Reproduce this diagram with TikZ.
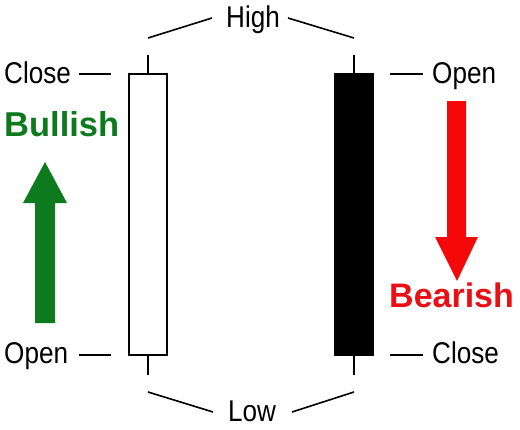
\documentclass[tikz,border=0pt]{standalone}
\usepackage{fontspec}
\setmainfont{Liberation Sans}
\newfontfamily\lblfont[FakeStretch=0.87]{Liberation Sans}
\definecolor{bullgreen}{RGB}{14,122,30}
\definecolor{bearred}{RGB}{232,16,20}
\definecolor{arrred}{RGB}{245,8,8}
\begin{document}
\begin{tikzpicture}[x=1pt,y=-1pt,
  lbl/.style={font=\lblfont\fontsize{30}{30}\selectfont, inner sep=0pt},
  ln/.style={line width=1.6pt},
  wick/.style={line width=1.6pt}]
\useasboundingbox (0,0) rectangle (520,429);
% white candle
\node[draw, line width=1.6pt, fill=white, minimum width=38pt, minimum height=281pt, inner sep=0pt] (wc) at (148,214.5) {};
\coordinate (wct) at (148,55);
\coordinate (wcb) at (148,375);
\draw[wick] (wc.north) -- (wct);
\draw[wick] (wc.south) -- (wcb);
% black candle
\node[draw, line width=1.6pt, fill=black, minimum width=38pt, minimum height=281pt, inner sep=0pt] (bc) at (354,214.5) {};
\coordinate (bct) at (354,55);
\coordinate (bcb) at (354,375);
\draw[wick] (bc.north) -- (bct);
\draw[wick] (bc.south) -- (bcb);
% High / Low
\node[lbl, anchor=base] (high) at (253,27) {High};
\node[lbl, anchor=base] (low) at (252,421) {Low};
\coordinate (h1) at (148,38); \coordinate (h2) at (354,38);
\coordinate (l1) at (148,392); \coordinate (l2) at (354,392);
\coordinate (h1e) at (212,18); \coordinate (h2e) at (288,18);
\coordinate (l1e) at (213,412); \coordinate (l2e) at (292,412);
\draw[ln] (h1) -- (h1e);
\draw[ln] (h2e) -- (h2);
\draw[ln] (l1) -- (l1e);
\draw[ln] (l2e) -- (l2);
% side labels
\node[lbl, anchor=base west] (closeL) at (4,83) {Close};
\node[lbl, anchor=base west] (openL) at (4,363) {Open};
\node[lbl, anchor=base west] (openR) at (432,83) {Open};
\node[lbl, anchor=base west] (closeR) at (432,363) {Close};
\coordinate (cl1) at (79,74); \coordinate (cl2) at (111,74);
\coordinate (ol1) at (79,355); \coordinate (ol2) at (111,355);
\coordinate (or1) at (390,74); \coordinate (or2) at (423,74);
\coordinate (cr1) at (390,355); \coordinate (cr2) at (423,355);
\draw[ln] (cl1) -- (cl2);
\draw[ln] (ol1) -- (ol2);
\draw[ln] (or1) -- (or2);
\draw[ln] (cr1) -- (cr2);
% Bullish
\node[font=\bfseries\fontsize{34.5}{34.5}\selectfont, inner sep=0pt, text=bullgreen, anchor=base west] (bull) at (4,136) {Bullish};
\fill[bullgreen] (35,323) -- (35,203) -- (23,203) -- (45,162) -- (67,203) -- (55,203) -- (55,323) -- cycle;
% Bearish
\node[font=\bfseries\fontsize{34}{34}\selectfont, inner sep=0pt, text=bearred, anchor=base west] (bear) at (389,307) {Bearish};
\fill[arrred] (447,101) -- (447,237) -- (435,237) -- (457,281) -- (478,237) -- (466,237) -- (466,101) -- cycle;
\end{tikzpicture}
\end{document}
